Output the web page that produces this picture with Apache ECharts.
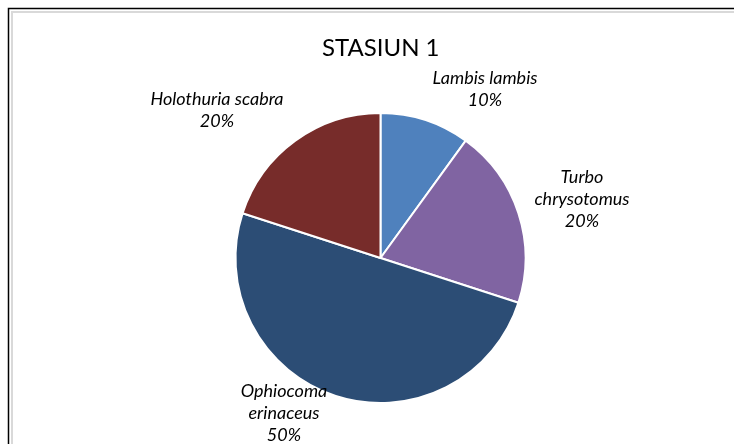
<!DOCTYPE html>
<html>
<head>
<meta charset="utf-8">
<script src="https://cdn.jsdelivr.net/npm/echarts@6/dist/echarts.min.js"></script>
<style>
  html, body { margin: 0; padding: 0; background: #fff; }
  #main { width: 734px; height: 444px; }
</style>
</head>
<body>
<div id="main"></div>
<script>
// chart data
const species = ["Lambis lambis", "Turbo chrysotomus", "Ophiocoma erinaceus", "Holothuria scabra"];
const labelNames = ["Lambis lambis", "Turbo\nchrysotomus", "Ophiocoma\nerinaceus", "Holothuria scabra"];
const percents = [10, 20, 50, 20];
const colors = ["#4F81BD", "#8064A2", "#2C4D75", "#772C2A"];

// where each label block sits (center), picked to match the original layout
const labelSpots = [[485, 89], [582, 199], [284, 413], [217, 110]];

const chart = echarts.init(document.getElementById("main"));

const option = {
  backgroundColor: "#fff",
  animation: false,
  title: {
    text: "STASIUN 1",
    left: 317,
    top: 31,
    textStyle: {
      fontFamily: "Lato",
      fontWeight: "normal",
      fontSize: 24,
      color: "#000"
    }
  },
  graphic: [
    {
      type: "rect",
      shape: { x: 12, y: 12, width: 760, height: 460 },
      style: { fill: "none", stroke: "#d9d9d9", lineWidth: 2 },
      silent: true
    },
    {
      type: "rect",
      shape: { x: 8.5, y: 8.5, width: 760, height: 460 },
      style: { fill: "none", stroke: "#000", lineWidth: 1.5 },
      silent: true
    }
  ],
  series: [
    {
      type: "pie",
      center: [380.5, 258],
      radius: 145,
      startAngle: 90,
      clockwise: true,
      itemStyle: { borderColor: "#fff", borderWidth: 2 },
      labelLine: { show: false },
      label: {
        show: true,
        position: "outside",
        formatter: function (p) {
          return labelNames[p.dataIndex] + "\n" + p.value + "%";
        },
        fontFamily: "Lato",
        fontStyle: "italic",
        fontSize: 18,
        lineHeight: 22,
        color: "#000",
        align: "center"
      },
      labelLayout: function (params) {
        const s = labelSpots[params.dataIndex];
        return { x: s[0], y: s[1], align: "center", verticalAlign: "middle" };
      },
      emphasis: { disabled: true },
      data: species.map(function (n, i) {
        return { name: n, value: percents[i], itemStyle: { color: colors[i] } };
      })
    }
  ]
};

chart.setOption(option);
</script>
</body>
</html>
